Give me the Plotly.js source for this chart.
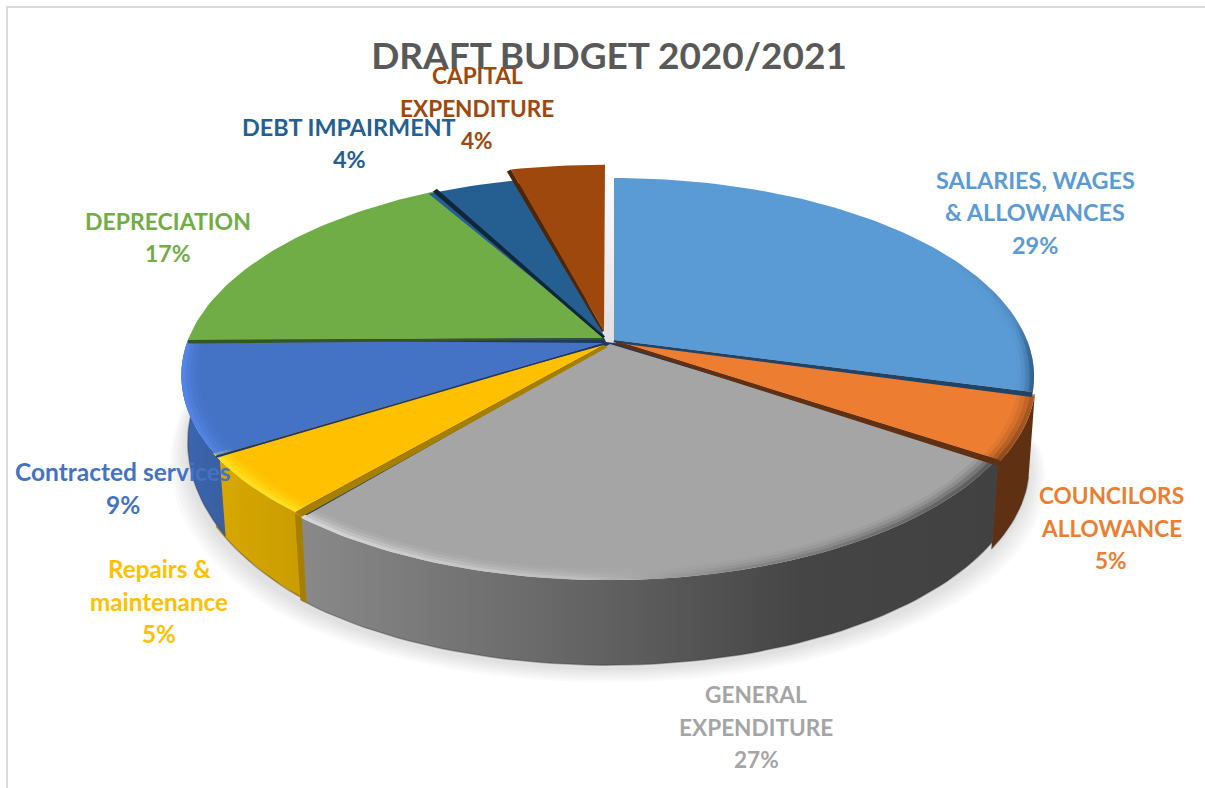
<!DOCTYPE html>
<html><head><meta charset="utf-8">
<script src="https://cdn.plot.ly/plotly-3.0.1.min.js"></script>
<style>html,body{margin:0;padding:0;background:#fff}#chart{width:1205px;height:788px}</style>
</head><body><div id="chart"></div>
<script>
// ---- data ----
const categories = ["SALARIES, WAGES & ALLOWANCES","COUNCILORS ALLOWANCE","GENERAL EXPENDITURE","Repairs & maintenance","Contracted services","DEPRECIATION","DEBT IMPAIRMENT","CAPITAL EXPENDITURE"];
const values = [29,5,27,5,9,17,4,4];
const labelLines = [["SALARIES, WAGES","& ALLOWANCES"],["COUNCILORS","ALLOWANCE"],["GENERAL","EXPENDITURE"],["Repairs &","maintenance"],["Contracted services"],["DEPRECIATION"],["DEBT IMPAIRMENT"],["CAPITAL","EXPENDITURE"]];
const percentLabels = ["29%","5%","27%","5%","9%","17%","4%","4%"];
// ---- styles ----
const topColors = ["#5B9BD5","#ED7D31","#A5A5A5","#FFC000","#4472C4","#70AD47","#255E91","#9E480E"];
const labelColors = topColors;
const labelSizes = [23.4,22.6,22.6,24.2,24.5,23,23.4,22.6];
const wallSlices = [1,2,3,4];
const wallStops = [
  [[0,"#5F3112"],[1,"#5F3112"]],
  [[0,"#8a8a8a"],[0.45,"#606060"],[0.72,"#454545"],[1,"#414141"]],
  [[0,"#D9A900"],[1,"#C99C00"]],[[0,"#3A66B4"],[1,"#3A5F9F"]]];
const edgeColors = ["#1F4468","#5F3112","#A67F00","#1F3864","#375623","#12263A","#4F2507"];
const edgeOwner = [0,1,3,4,5,5,7];
const edgeOffset = [[-1,5],[-1,6],[6,5],[-1,2.5],[0,3.5],[4,-3],[-4,2]];
const bevelStops = [
  [[0,"rgba(30,70,110,0)"],[0.8,"rgba(30,70,110,0.2)"],[1,"rgba(30,70,110,0.9)"]],
  [[0,"rgba(95,49,18,0.9)"],[1,"rgba(95,49,18,0.5)"]],
  [[0,"rgba(235,235,235,0.9)"],[0.4,"rgba(205,205,205,0.7)"],[0.62,"rgba(110,110,110,0.6)"],[1,"rgba(60,60,60,0.95)"]],
  [[0,"rgba(255,235,40,0.95)"],[1,"rgba(255,235,40,0.95)"]],
  [[0,"rgba(90,140,240,0.95)"],[1,"rgba(85,135,235,0.8)"]]];
const bevelFrom = [62,104,122,219,237];
const titleText = "DRAFT BUDGET 2020/2021";
// ---- layout: where slices and labels sit, in picture pixels ----
const cx=608, cy=343, A=420, B=195.3, K=0.176, DEPTH=85, BASE_SCALE=0.985, LABEL_LINE=32.5;
const sliceShift = [[6,-1],[1,2],[0,3],[-3,-5],[0,-3],[0,-3],[-4,-1],[-3,-3]];
const apexShift  = [[6,-3],[8,-2],[2,1],[-4,2],[-4,0],[-5,-5],[-3,-6],[-4,-12]];
const rimScale = [0.985,1,0.99,1,1,1,1,1.065];
const labelX = [1035,1111,756,159,123,168,349,477];
const labelY = [212,528,727,601,488,237,143,108];

const total = values.reduce((a,b)=>a+b,0);
const RAD = Math.PI/180;
function topPt(th,r,s){const u=r*Math.sin(th*RAD),v=r*Math.cos(th*RAD),w=1+K*v;
  return [cx+A*u/w+s[0], cy-B*v/w+s[1]];}
function basePt(th,r,s){const p=topPt(th,r,s);
  const depth=DEPTH-0.45*Math.max(0,th-219.6);
  return [cx+(p[0]-cx)*BASE_SCALE,p[1]+depth];}
function arc(f,a,b,r,s){const n=Math.max(4,Math.ceil(Math.abs(b-a)/1.5)),o=[];
  for(let i=0;i<=n;i++)o.push(f(a+(b-a)*i/n,r,s));return o;}
function poly(pts,opt){
  const t={type:"scatter",mode:"lines",x:pts.map(p=>p[0]),y:pts.map(p=>p[1]),fill:"toself",
    line:{width:0},hoverinfo:"skip",showlegend:false};
  if(opt.stops){t.fillgradient={type:opt.type||"horizontal",colorscale:opt.stops};t.fillcolor="rgba(0,0,0,0)";}
  else t.fillcolor=opt.color;
  if(opt.opacity)t.opacity=opt.opacity;
  return t;
}
function pline(pts,color,width,op){return {type:"scatter",mode:"lines",x:pts.map(p=>p[0]),y:pts.map(p=>p[1]),
  line:{color:color,width:width},opacity:op||1,hoverinfo:"skip",showlegend:false};}

const starts=[];let acc=0;values.forEach(v=>{starts.push(acc/total*360);acc+=v;});
const ends=starts.map((s,i)=>s+values[i]/total*360);

const traces=[];
// soft shadow below the pie
[18,15,12,9,6,3].forEach(e=>{
  const pts=arc((th,r,s)=>{const p=basePt(th,1,s);return [cx+(p[0]-cx)*(1+e/430),p[1]+e*0.8+3];},90,278,1,[0,0]);
  traces.push(poly(pts.concat([[cx,cy]]),{color:"#000",opacity:0.018}));
});
// gap behind the pulled-out slices
traces.push(poly([topPt(0,0,[-4,0]),topPt(0,1,[-4,-3]),topPt(0,1,[6,-3]),topPt(0,0,[6,0])],
  {stops:[[0,"#dfdfdf"],[1,"#ffffff"]],type:"vertical"}));
// outer walls, only the part that faces the viewer
wallSlices.forEach((i,k)=>{
  const a=Math.max(starts[i]-1,84),b=Math.min(ends[i]+1,278);
  const s=sliceShift[i],r=rimScale[i];
  const pts=arc(topPt,a,b,r,s).concat(arc(basePt,b,a,r,s));
  traces.push(poly(pts,{stops:wallStops[k]}));
  traces.push(pline(arc(basePt,a,b,r,s),"#333",1.5,0.35));
});
// vertical cut face between the yellow and grey walls
{
  const th=ends[2],s=sliceShift[2],r=rimScale[2];
  const t0=topPt(th,r,s),b0=basePt(th,r,s);
  traces.push(poly([t0,b0,[b0[0]-6,b0[1]-3],[t0[0]-7,t0[1]-5]],{color:edgeColors[2]}));
}
// dark underside that shows through the joins between slices
traces.push(poly([topPt(0,0,[-2,-1])].concat(arc(topPt,ends[0],ends[6]+2,0.985,[0,0])),{color:"#1f3864"}));
// top faces
values.forEach((v,i)=>{
  const s=sliceShift[i];
  const pts=[topPt(0,0,apexShift[i])].concat(arc(topPt,starts[i],ends[i],rimScale[i],s));
  pts.push(pts[0]);
  const t=poly(pts,{color:topColors[i]});
  t.name=categories[i];t.hoverinfo="name";
  traces.push(t);
});
// rim bevel, built from a few thin bands so that it looks soft
bevelStops.forEach((stops,i)=>{
  const a=bevelFrom[i],b=Math.min(ends[i],278),s=sliceShift[i],r=rimScale[i];
  [[0.99,0.50],[0.98,0.30],[0.97,0.18],[0.96,0.10]].forEach(q=>{
    const pts=arc(topPt,a,b,r,s).concat(arc(topPt,b,a,r*q[0],s));
    traces.push(poly(pts,{stops:stops,opacity:q[1]}));
  });
});
// cut faces seen along the slice boundaries
edgeColors.forEach((c,i)=>{
  const th=ends[i],o=edgeOwner[i],d=edgeOffset[i],r=rimScale[o];
  const s=sliceShift[o],ap=apexShift[o];
  const rim0=topPt(th,r,s),rim1=[rim0[0]+d[0],rim0[1]+d[1]];
  const c0=topPt(th,0,ap),c1=[c0[0]+d[0]*0.5,c0[1]+d[1]*0.5];
  traces.push(poly([c0,rim0,rim1,c1],{color:c}));
});

const annotations=[];
values.forEach((v,i)=>{
  const lines=labelLines[i].concat([percentLabels[i]]);
  lines.forEach((text,j)=>annotations.push({
    xref:"x",yref:"y",x:labelX[i],y:labelY[i]+(j-(lines.length-1)/2)*LABEL_LINE,
    xanchor:"center",yanchor:"middle",showarrow:false,text:text,
    font:{family:"Lato, 'Open Sans', sans-serif",size:labelSizes[i],color:labelColors[i],weight:700}
  }));
});

const layout={
  width:1205,height:788,margin:{l:0,r:0,t:0,b:0,pad:0},paper_bgcolor:"#fff",plot_bgcolor:"#fff",showlegend:false,
  xaxis:{range:[0,1205],visible:false,fixedrange:true},
  yaxis:{range:[788,0],visible:false,fixedrange:true},
  title:{text:titleText,x:609/1205,xanchor:"center",y:1-56/788,yanchor:"middle",
    font:{family:"Lato, 'Open Sans', sans-serif",size:37,color:"#595959",weight:700}},
  annotations:annotations,
  shapes:[
    {type:"line",xref:"x",yref:"y",x0:7,x1:7,y0:7,y1:788,line:{color:"#d9d9d9",width:2},layer:"below"},
    {type:"line",xref:"x",yref:"y",x0:6,x1:1205,y0:7,y1:7,line:{color:"#d9d9d9",width:2},layer:"below"}
  ]
};
Plotly.newPlot("chart",traces,layout,{displayModeBar:false,responsive:false});
</script></body></html>
